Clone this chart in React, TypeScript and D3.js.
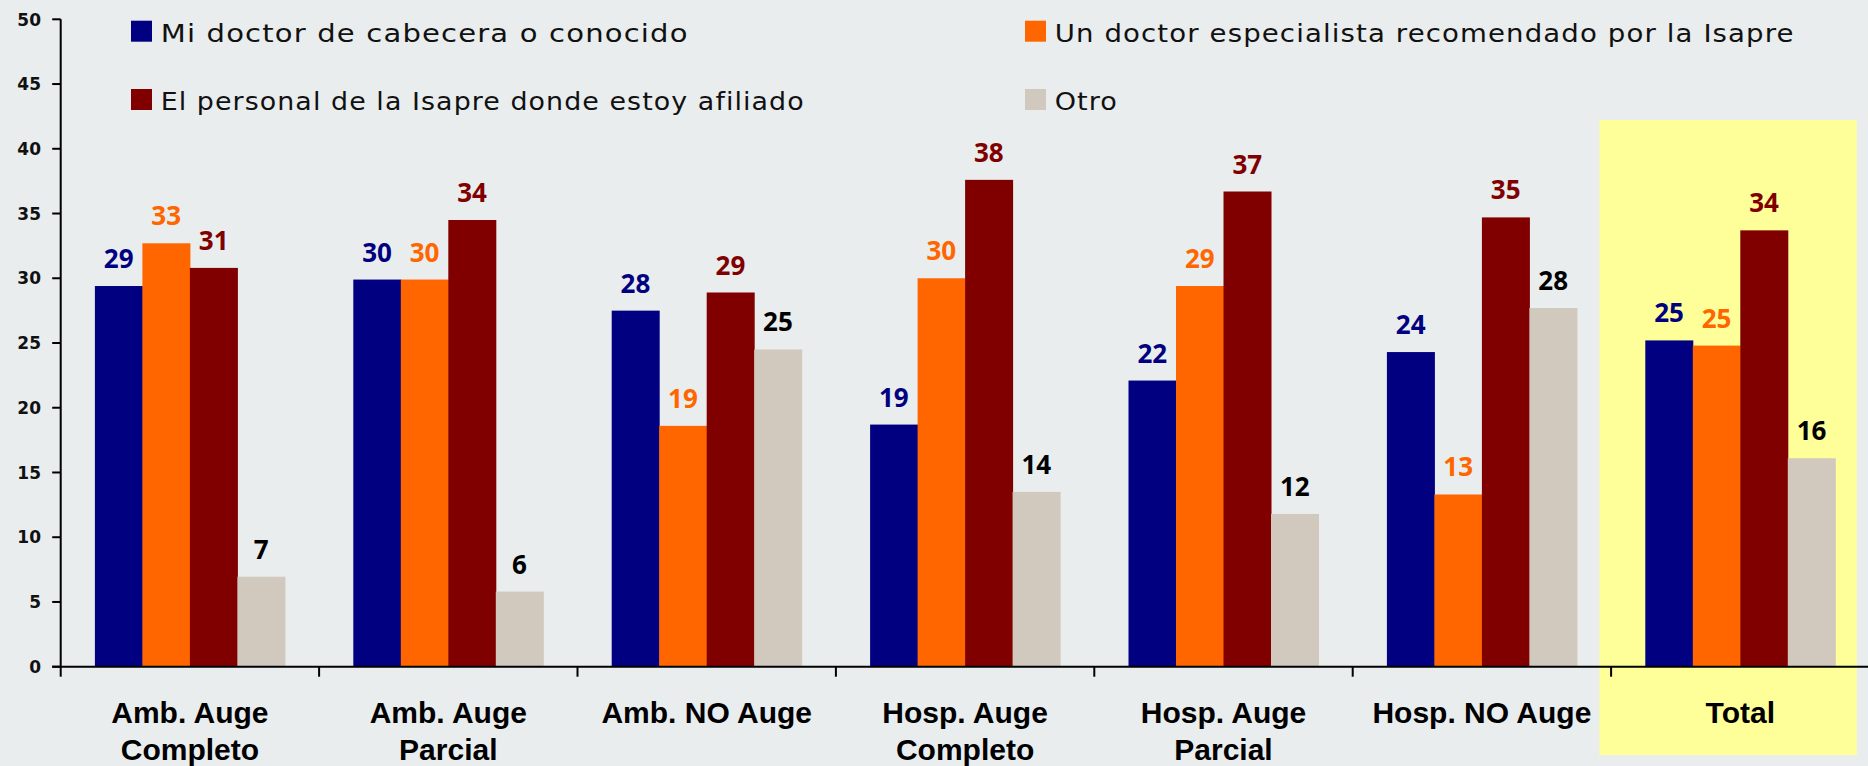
import React from "react";
import * as d3 from "d3";

const categories = [
  ["Amb. Auge", "Completo"],
  ["Amb. Auge", "Parcial"],
  ["Amb. NO Auge"],
  ["Hosp. Auge", "Completo"],
  ["Hosp. Auge", "Parcial"],
  ["Hosp. NO Auge"],
  ["Total"],
];
const categoryKeys = categories.map((c) => c.join(" "));

const seriesNames = [
  "Mi doctor de cabecera o conocido",
  "Un doctor especialista recomendado por la Isapre",
  "El personal de la Isapre donde estoy afiliado",
  "Otro",
];

const miDoctor = [29.4, 29.9, 27.5, 18.7, 22.1, 24.3, 25.2];
const especialista = [32.7, 29.9, 18.6, 30.0, 29.4, 13.3, 24.8];
const personalIsapre = [30.8, 34.5, 28.9, 37.6, 36.7, 34.7, 33.7];
const otro = [6.95, 5.8, 24.5, 13.5, 11.8, 27.7, 16.1];

const labelsMiDoctor = [29, 30, 28, 19, 22, 24, 25];
const labelsEspecialista = [33, 30, 19, 30, 29, 13, 25];
const labelsPersonal = [31, 34, 29, 38, 37, 35, 34];
const labelsOtro = [7, 6, 25, 14, 12, 28, 16];

const yTicks = [0, 5, 10, 15, 20, 25, 30, 35, 40, 45, 50];

const seriesValues = [miDoctor, especialista, personalIsapre, otro];
const seriesLabels = [labelsMiDoctor, labelsEspecialista, labelsPersonal, labelsOtro];
const barColors = ["#000080", "#FF6600", "#800000", "#D1C9BD"];
const labelColors = ["#000080", "#FF6600", "#800000", "#000000"];

const W = 1868;
const H = 766;
const axisX = 60.7;
const bandW = 258.4;
const y0 = 666.7;
const yTop = 19.3;

export default function App() {
  const x0 = d3
    .scaleBand<string>()
    .domain(categoryKeys)
    .range([axisX, axisX + bandW * categoryKeys.length])
    .paddingInner(0)
    .paddingOuter(0);
  const x1 = d3
    .scaleBand<string>()
    .domain(seriesNames)
    .range([34.2, 34.2 + 190])
    .padding(0);
  const y = d3.scaleLinear().domain([0, 50]).range([y0, yTop]);

  const legendPos = [
    { x: 131, y: 41.7, len: 527.9 },
    { x: 1025, y: 41.7, len: 740 },
    { x: 131, y: 110, len: 644 },
    { x: 1025, y: 110, len: 63.3 },
  ];

  const totalX = x0("Total") as number;

  return (
    <div style={{ position: "absolute", left: 0, top: 0, width: W, height: H }}>
      <svg width={W} height={H} style={{ display: "block" }}>
        <rect x={0} y={0} width={W} height={H} fill="#E9EDEE" />
        <rect x={totalX - 11.7} y={120} width={bandW - 1} height={635} fill="#FFFF99" />

        {/* bars */}
        {categoryKeys.map((cat, ci) => (
          <g key={cat} transform={`translate(${x0(cat)},0)`}>
            {seriesNames.map((s, si) => {
              const v = seriesValues[si][ci];
              const bx = x1(s) as number;
              const bw = x1.bandwidth();
              return (
                <g key={s}>
                  <rect x={bx} y={y(v)} width={bw + 0.5} height={y0 - y(v)} fill={barColors[si]} />
                  <text
                    x={bx + bw / 2}
                    y={y(v) - 18}
                    textAnchor="middle"
                    fontFamily="'Open Sans', sans-serif"
                    fontWeight={700}
                    fontSize={26}
                    fill={labelColors[si]}
                  >
                    {seriesLabels[si][ci]}
                  </text>
                </g>
              );
            })}
          </g>
        ))}

        {/* y axis */}
        <line x1={axisX} x2={axisX} y1={yTop} y2={y0} stroke="#000" strokeWidth={2} />
        {yTicks.map((t) => (
          <g key={t}>
            <line x1={axisX - 8.5} x2={axisX} y1={y(t)} y2={y(t)} stroke="#000" strokeWidth={2} />
            <text
              x={41}
              y={y(t) + 6.2}
              textAnchor="end"
              fontFamily="'DejaVu Sans', sans-serif"
              fontWeight="bold"
              fontSize={17}
              fill="#111"
            >
              {t}
            </text>
          </g>
        ))}

        {/* x axis */}
        <line x1={axisX - 8.5} x2={W} y1={y0} y2={y0} stroke="#000" strokeWidth={2} />
        {categoryKeys.map((cat) => (
          <line
            key={cat}
            x1={x0(cat) as number}
            x2={x0(cat) as number}
            y1={y0}
            y2={y0 + 10}
            stroke="#000"
            strokeWidth={2}
          />
        ))}
        {categories.map((lines, ci) => (
          <text
            key={ci}
            x={(x0(categoryKeys[ci]) as number) + bandW / 2}
            y={723.3}
            textAnchor="middle"
            fontFamily="'Liberation Sans', Arial, sans-serif"
            fontWeight="bold"
            fontSize={30}
            fill="#000"
          >
            {lines.map((l, li) => (
              <tspan key={li} x={(x0(categoryKeys[ci]) as number) + bandW / 2} dy={li === 0 ? 0 : 36.7}>
                {l}
              </tspan>
            ))}
          </text>
        ))}

        {/* legend */}
        {seriesNames.map((s, si) => (
          <g key={s}>
            <rect x={legendPos[si].x} y={legendPos[si].y - 21} width={21} height={21} fill={barColors[si]} />
            <text
              x={legendPos[si].x + 29.7}
              y={legendPos[si].y}
              fontFamily="'DejaVu Sans', sans-serif"
              fontSize={25}
              letterSpacing={1}
              fill="#111"
              textLength={legendPos[si].len}
              lengthAdjust="spacingAndGlyphs"
            >
              {s}
            </text>
          </g>
        ))}
      </svg>
    </div>
  );
}
